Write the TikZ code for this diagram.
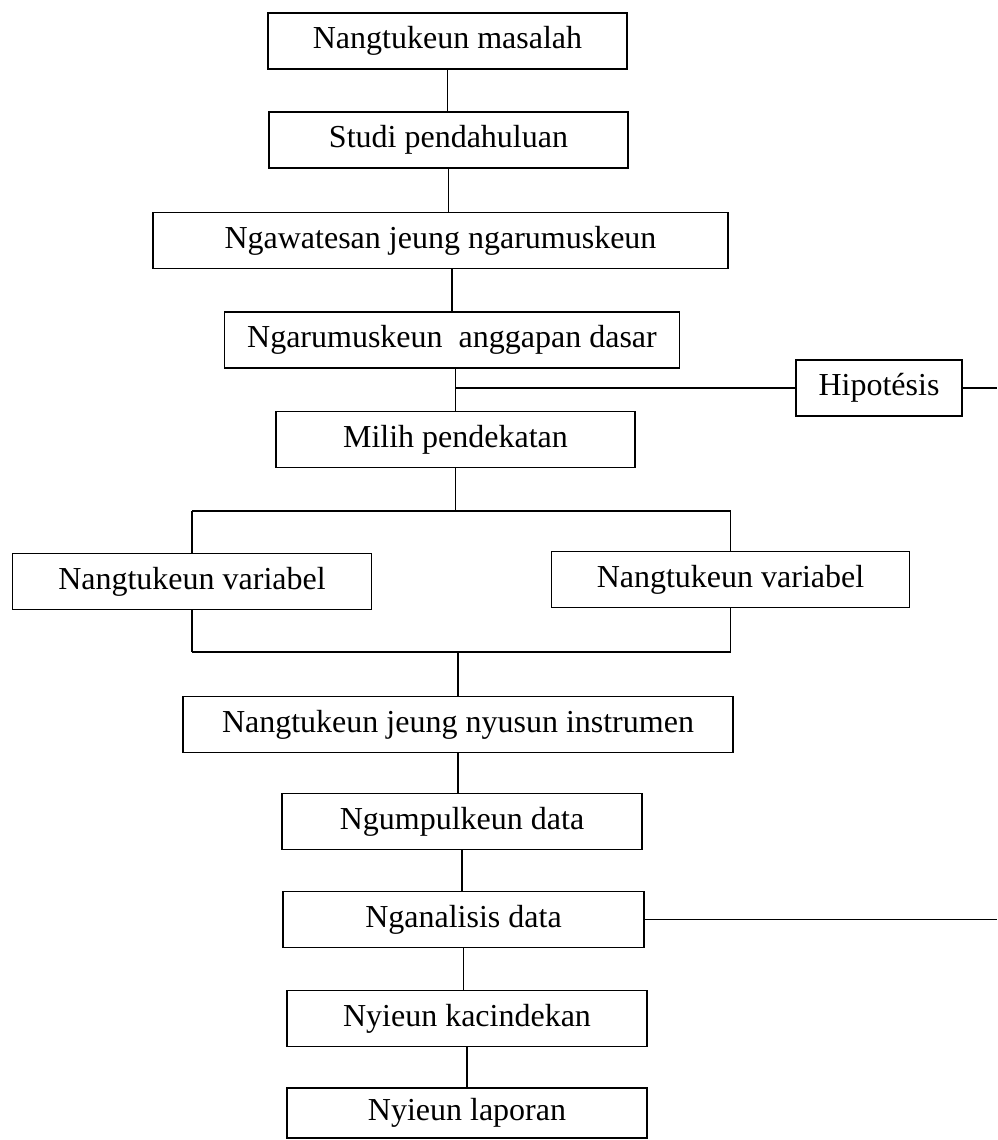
\documentclass[tikz,border=0pt]{standalone}
\usepackage{fontspec}
\setmainfont{Liberation Serif}
\usepackage{tikz}

\tikzset{
  tahap/.style={draw, fill=white, line width=0.8pt, inner sep=0pt,
    minimum height=28pt, font=\fontsize{16}{19}\selectfont},
  garis/.style={line width=0.8pt}
}

\begin{document}
\begin{tikzpicture}[x=0.5pt,y=-0.5pt]
\useasboundingbox (0,0) rectangle (997,1140);
% kotak-kotak tahapan
\node[tahap, minimum width=179.5pt] (masalah) at (447.5,41) {Nangtukeun masalah};
\node[tahap, minimum width=179.5pt] (studi) at (448.5,140) {Studi pendahuluan};
\node[tahap, minimum width=287.5pt] (ngawatesan) at (440.5,240.5) {Ngawatesan jeung ngarumuskeun};
\node[tahap, minimum width=227.5pt] (anggapan) at (452,340) {Ngarumuskeun~ anggapan dasar};
\node[tahap, minimum width=83pt] (hipotesis) at (879,388) {Hipot\'esis};
\node[tahap, minimum width=179.5pt] (milih) at (455.5,439.5) {Milih pendekatan};
\node[tahap, minimum width=179.5pt] (varKiri) at (192,581.5) {Nangtukeun variabel};
\node[tahap, minimum width=179pt] (varKanan) at (730.5,579.5) {Nangtukeun variabel};
\node[tahap, minimum width=275pt] (instrumen) at (458,724.5) {Nangtukeun jeung nyusun instrumen};
\node[tahap, minimum width=180pt] (ngumpul) at (462,821.5) {Ngumpulkeun data};
\node[tahap, minimum width=180.5pt] (analisis) at (463.5,919.5) {Nganalisis data};
\node[tahap, minimum width=180pt] (kacindekan) at (467,1018.5) {Nyieun kacindekan};
\node[tahap, minimum width=180pt, minimum height=25pt] (laporan) at (467,1113) {Nyieun laporan};

% titik bantu
\coordinate (cabangKiri) at (192,511);
\coordinate (cabangKanan) at (730.5,511);
\coordinate (gabungKiri) at (192,652);
\coordinate (gabungKanan) at (730.5,652);
\coordinate (tepiKanan) at (997,0);

% garis penghubung
\draw[garis] (masalah.south) -- (masalah.south |- studi.north);
\draw[garis] (studi.south) -- (studi.south |- ngawatesan.north);
\draw[garis] (anggapan.north |- ngawatesan.south) -- (anggapan.north);
\draw[garis] (milih.north) -- (milih.north |- anggapan.south);
\draw[garis] (milih.north |- hipotesis.west) -- (hipotesis.west);
\draw[garis] (hipotesis.east) -- (hipotesis.east -| tepiKanan);
\draw[garis] (milih.south) -- (milih.south |- cabangKiri);
\draw[garis] (cabangKiri) -- (cabangKanan);
\draw[garis] (cabangKiri) -- (varKiri.north);
\draw[garis] (varKiri.south) -- (gabungKiri);
\draw[garis] (cabangKanan) -- (varKanan.north);
\draw[garis] (varKanan.south) -- (gabungKanan);
\draw[garis] (gabungKiri) -- (gabungKanan);
\draw[garis] (instrumen.north |- gabungKiri) -- (instrumen.north);
\draw[garis] (instrumen.south) -- (instrumen.south |- ngumpul.north);
\draw[garis] (ngumpul.south) -- (ngumpul.south |- analisis.north);
\draw[garis] (analisis.east) -- (analisis.east -| tepiKanan);
\draw[garis] (analisis.south) -- (analisis.south |- kacindekan.north);
\draw[garis] (kacindekan.south) -- (kacindekan.south |- laporan.north);
\end{tikzpicture}
\end{document}
